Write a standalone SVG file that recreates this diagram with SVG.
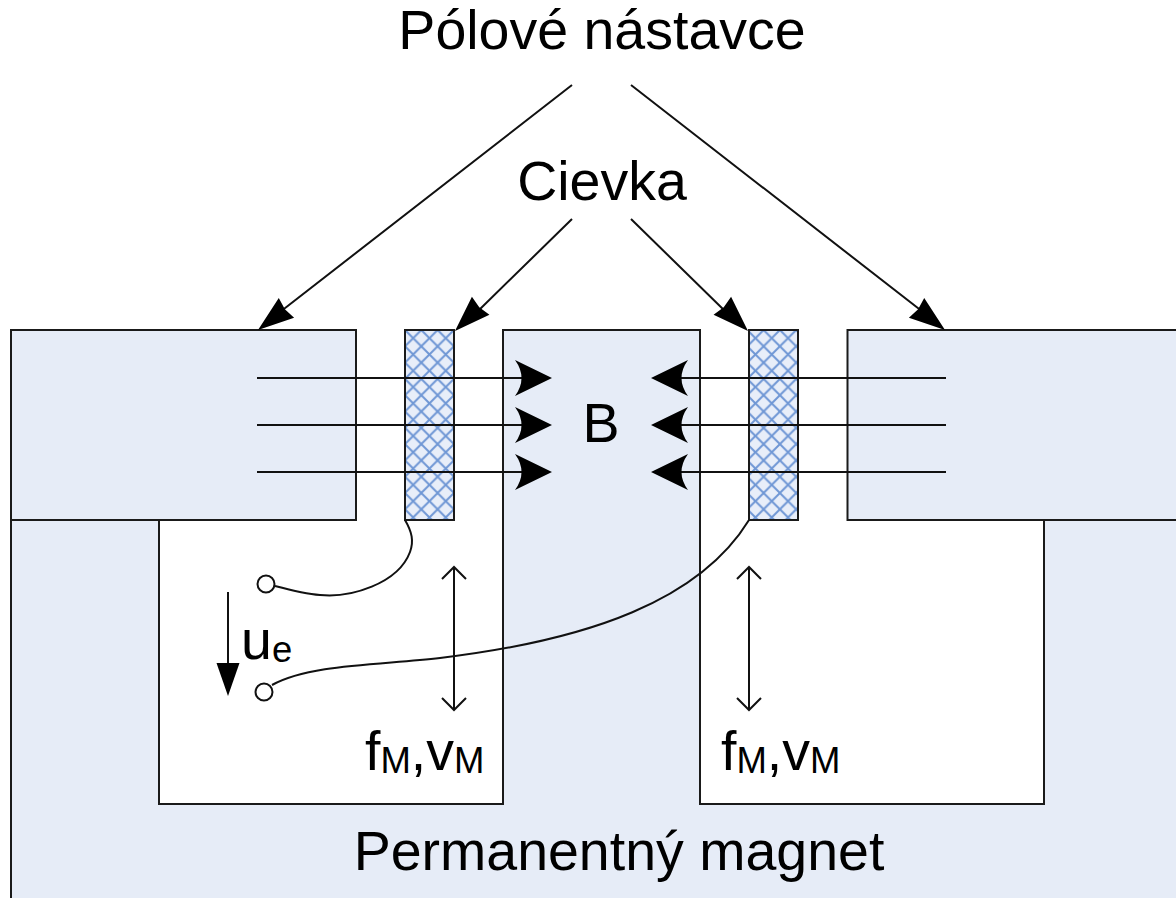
<svg xmlns="http://www.w3.org/2000/svg" width="1176" height="898" viewBox="0 0 1176 898">
<style>
.s{fill:#E6ECF7;stroke:#1a1a1a;stroke-width:2}
.c{fill:url(#hatch);stroke:#1a1a1a;stroke-width:2}
.l{fill:none;stroke:#111;stroke-width:2}
.h{fill:#000;stroke:none}
text{font-family:"Liberation Sans",Arial,sans-serif;fill:#000;font-size:55.500px}
.sub{font-size:36.500px}
</style>
<defs>
<pattern id="hatch" patternUnits="userSpaceOnUse" x="405" y="330" width="16.3" height="16.3">
<rect width="16.3" height="16.3" fill="#E8EEF9"/>
<path d="M0 0L16.3 16.3M0 16.3L16.3 0" stroke="#6F97D5" stroke-width="2" fill="none"/>
</pattern>
<path id="hr" class="h" d="M0 0L-37 18Q-24 0-37 -18Z"/>
<path id="hd" class="h" d="M0 0L-36 12.500L-34 0L-36 -12.500Z"/>
</defs>
<g id="magnet"><path class="s" d="M11 898V520H159V804H503V330H700V804H1044V520H1177V900H11Z"/></g>
<g id="pole-left"><rect class="s" x="11" y="330" width="345" height="190"/></g>
<g id="pole-right"><path class="s" d="M1177 330H847.500V520H1177"/></g>
<g id="coil-left"><rect class="c" x="405" y="330" width="49" height="190"/></g>
<g id="coil-right"><rect class="c" x="749" y="330" width="49" height="190"/></g>
<g id="connectors">
<path class="l" d="M572 85L280 312M631 85L923 312M572 219L476 313M631 219L727 313"/>
<use href="#hd" transform="translate(258 330) rotate(142.2)"/>
<use href="#hd" transform="translate(945 330) rotate(37.8)"/>
<use href="#hd" transform="translate(455 331) rotate(135.5)"/>
<use href="#hd" transform="translate(748 331) rotate(44.5)"/>
<path class="l" d="M257 378H525M257 425H525M257 472H525M946 378H678M946 425H678M946 472H678"/>
<use href="#hr" transform="translate(552 378)"/>
<use href="#hr" transform="translate(552 425)"/>
<use href="#hr" transform="translate(552 472)"/>
<use href="#hr" transform="translate(651 378) rotate(180)"/>
<use href="#hr" transform="translate(651 425) rotate(180)"/>
<use href="#hr" transform="translate(651 472) rotate(180)"/>
<path class="l" d="M405 520C412 532 414 541 410 552C398 584 350 598 320 595C306 594 290 590 275 586"/>
<path class="l" d="M749 520C700 600 590 640 440 658C380 665 310 664 272 685"/>
<circle cx="266" cy="584" r="8.500" fill="#fff" stroke="#111" stroke-width="2"/>
<circle cx="264" cy="692" r="8.500" fill="#fff" stroke="#111" stroke-width="2"/>
<path class="l" d="M228 592V668"/>
<path class="h" d="M216.500 663H239.500L228 696Z"/>
<path class="l" d="M454 568V710M442 579L454 567L466 579M442 698L454 710L466 698"/>
<path class="l" d="M749 568V710M737 579L749 567L761 579M737 698L749 710L761 698"/>
</g>
<g id="labels">
<text x="602" y="49" text-anchor="middle">Pólové nástavce</text>
<text x="602" y="200" text-anchor="middle">Cievka</text>
<text x="601" y="442" text-anchor="middle">B</text>
<text x="241" y="659">u<tspan class="sub" dy="3">e</tspan></text>
<text x="365" y="770">f<tspan class="sub" dy="3">M</tspan><tspan dy="-3">,v</tspan><tspan class="sub" dy="3">M</tspan></text>
<text x="721" y="770">f<tspan class="sub" dy="3">M</tspan><tspan dy="-3">,v</tspan><tspan class="sub" dy="3">M</tspan></text>
<text x="619" y="870" text-anchor="middle">Permanentný magnet</text>
</g>
</svg>
